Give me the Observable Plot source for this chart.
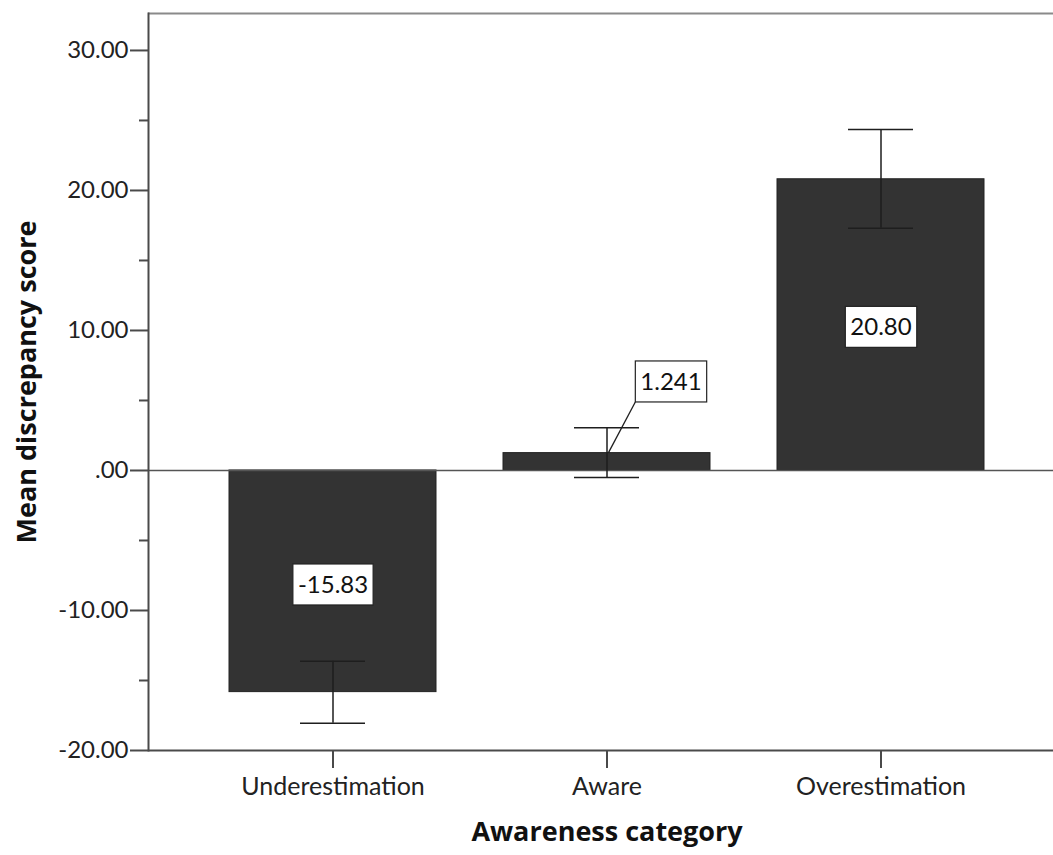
<!DOCTYPE html>
<html><head><meta charset="utf-8">
<script src="https://cdn.jsdelivr.net/npm/d3@7"></script>
<script src="https://cdn.jsdelivr.net/npm/@observablehq/plot@0.6"></script>
<style>body{margin:0;background:#fff} svg{display:block}</style>
</head><body><div id="chart"></div>
<script>
const categories = ["Underestimation", "Aware", "Overestimation"];
const means = [-15.83, 1.241, 20.80];
const errLow = [-18.05, -0.50, 17.30];
const errHigh = [-13.62, 3.05, 24.35];
const labelText = ["-15.83", "1.241", "20.80"];
const labelY = [-8.2, 6.3, 10.2];
const yTicks = [-20, -10, 0, 10, 20, 30];
const yMinorTicks = [-15, -5, 5, 15, 25];
const yDomain = [-20, 32.64];

const data = categories.map((c, i) => ({category: c, mean: means[i], lo: errLow[i], hi: errHigh[i], label: labelText[i], ly: labelY[i]}));
const font = "Lato, 'Open Sans', sans-serif";
const titleFont = "'Open Sans', Lato, sans-serif";
const ink = "#1e1e1e";
const axisColor = "#4a4a4a";

const plot = Plot.plot({
  width: 1053, height: 855,
  marginLeft: 148, marginRight: 0, marginTop: 13, marginBottom: 105,
  style: {fontFamily: font, fontSize: "24px", color: "#222", background: "#fff"},
  x: {domain: categories, paddingInner: 0.246, paddingOuter: 0.2715, align: 0.537, label: null},
  y: {domain: yDomain, label: null},
  marks: [
    Plot.barY(data, {x: "category", y: "mean", fill: "#333333", stroke: "#222", strokeWidth: 1}),
    Plot.ruleY([0], {stroke: "#555", strokeWidth: 1.5}),
    Plot.ruleY([yDomain[1]], {stroke: "#8a8a8a", strokeWidth: 2}),
    Plot.ruleY([yDomain[0]], {stroke: axisColor, strokeWidth: 2}),
    Plot.frame({anchor: "left", stroke: axisColor, strokeWidth: 2}),
    Plot.ruleX(data, {x: "category", y1: "lo", y2: "hi", stroke: ink, strokeWidth: 1.5}),
    Plot.tickY(data, {x: "category", y: "lo", insetLeft: 71, insetRight: 71, stroke: ink, strokeWidth: 1.5}),
    Plot.tickY(data, {x: "category", y: "hi", insetLeft: 71, insetRight: 71, stroke: ink, strokeWidth: 1.5}),
    Plot.axisY(yTicks, {tickSize: 18, tickPadding: 2, stroke: axisColor, strokeWidth: 2, fill: "#222", fontSize: 24,
      tickFormat: d => d === 0 ? ".00" : d.toFixed(2), label: null}),
    Plot.axisY(yMinorTicks, {tickSize: 9, stroke: axisColor, strokeWidth: 2, tickFormat: () => "", label: null}),
    Plot.axisX({tickSize: 18, tickPadding: 9, stroke: axisColor, strokeWidth: 2, fill: "#222", fontSize: 25, label: null}),
    Plot.text(["Mean discrepancy score"], {frameAnchor: "left", textAnchor: "middle", lineAnchor: "middle", dx: -121, rotate: -90,
      fontWeight: "bold", fontSize: 27, fontFamily: titleFont, fill: "#111"}),
    Plot.text(["Awareness category"], {frameAnchor: "bottom", textAnchor: "middle", lineAnchor: "middle", dx: 6, dy: 82,
      fontWeight: "bold", fontSize: 27, fontFamily: titleFont, fill: "#111"}),
    Plot.text(data.filter(d => d.category !== "Aware"), {x: "category", y: "ly", text: "label", fontSize: 24, fill: "#111"}),
    Plot.text(data.filter(d => d.category === "Aware"), {x: "category", y: "ly", text: "label", dx: 64, fontSize: 24, fill: "#111"})
  ]
});
document.getElementById("chart").appendChild(plot);

// boxes behind value labels, and leader line for the small bar
const ns = "http://www.w3.org/2000/svg";
const inv = plot.getScreenCTM().inverse();
const boxes = [];
plot.querySelectorAll("text").forEach(t => {
  if (!labelText.includes(t.textContent)) return;
  const b = t.getBBox();
  const r = document.createElementNS(ns, "rect");
  const w = b.width + 10, h = 41;
  const cx = b.x + b.width / 2, cy = b.y + b.height / 2 + 1;
  r.setAttribute("x", cx - w / 2); r.setAttribute("y", cy - h / 2);
  r.setAttribute("width", w); r.setAttribute("height", h);
  r.setAttribute("fill", "#fff"); r.setAttribute("stroke", "#222"); r.setAttribute("stroke-width", 1.2);
  const tr = t.getAttribute("transform");
  if (tr) r.setAttribute("transform", tr);
  t.parentNode.insertBefore(r, t);
  boxes.push({text: t.textContent, rect: r});
});
const xs = Plot.scale({x: plot.scale("x")});
const ys = Plot.scale({y: plot.scale("y")});
const aware = data.find(d => d.category === "Aware");
const ab = boxes.find(b => b.text === aware.label);
if (ab) {
  const rb = ab.rect.getBBox();
  const p = plot.createSVGPoint(); p.x = rb.x; p.y = rb.y + rb.height;
  const q = p.matrixTransform(ab.rect.getScreenCTM()).matrixTransform(inv);
  const line = document.createElementNS(ns, "line");
  line.setAttribute("x1", q.x); line.setAttribute("y1", q.y);
  line.setAttribute("x2", xs.apply(aware.category) + xs.bandwidth / 2 + 2);
  line.setAttribute("y2", ys.apply(aware.mean));
  line.setAttribute("stroke", ink); line.setAttribute("stroke-width", 1.3);
  plot.appendChild(line);
}
</script>
</body></html>
